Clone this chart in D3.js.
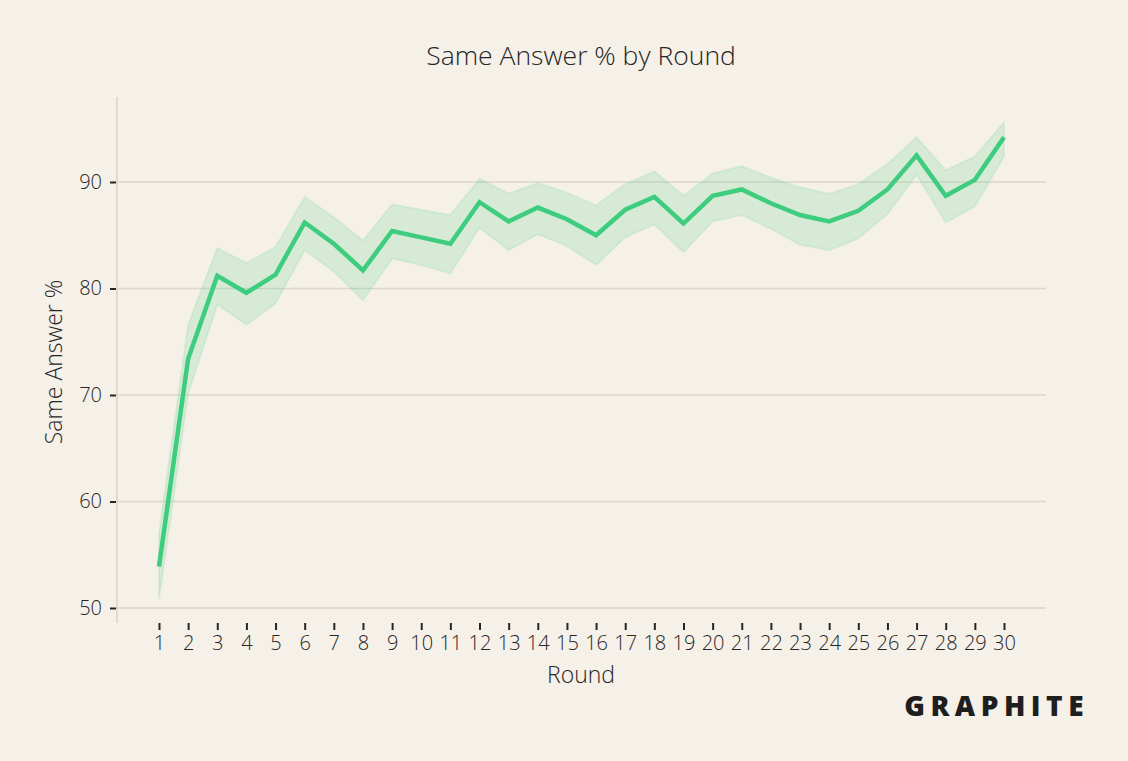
<!DOCTYPE html>
<html>
<head>
<meta charset="utf-8">
<script src="https://cdn.jsdelivr.net/npm/d3@7"></script>
<style>
  html, body { margin: 0; padding: 0; background: #f5f0e8; }
  svg { display: block; font-family: "Open Sans", sans-serif; }
</style>
</head>
<body>
<svg id="chart" width="1128" height="761"></svg>
<script>
const rounds = d3.range(1, 31);
const sameAnswer = [53.9, 73.4, 81.2, 79.6, 81.3, 86.2, 84.2, 81.7, 85.4, 84.8,
  84.2, 88.1, 86.3, 87.6, 86.5, 85.0, 87.4, 88.6, 86.1, 88.7,
  89.3, 88.0, 86.9, 86.3, 87.3, 89.3, 92.5, 88.7, 90.2, 94.2];
const upperCI = [57.0, 76.6, 83.8, 82.4, 83.9, 88.6, 86.7, 84.5, 87.9, 87.4,
  86.9, 90.3, 88.9, 89.9, 89.0, 87.8, 89.8, 91.0, 88.7, 90.8,
  91.5, 90.4, 89.5, 88.9, 89.8, 91.7, 94.2, 91.1, 92.4, 95.6];
const lowerCI = [50.8, 70.1, 78.5, 76.6, 78.6, 83.6, 81.6, 78.9, 82.8, 82.2,
  81.4, 85.7, 83.6, 85.1, 84.0, 82.2, 84.8, 86.0, 83.4, 86.3,
  86.9, 85.6, 84.1, 83.6, 84.7, 87.0, 90.7, 86.2, 87.7, 92.4];
const yTicks = [50, 60, 70, 80, 90];

const data = rounds.map((r, i) => ({
  round: r, value: sameAnswer[i], hi: upperCI[i], lo: lowerCI[i]
}));

const svg = d3.select("#chart");
const textColor = "#262626";
const gridLeft = 117, gridRight = 1046;

const x = d3.scaleLinear().domain([1, 30]).range([159, 1004]);
const y = d3.scaleLinear().domain([50, 90]).range([608, 182]);

// grid
svg.append("g")
  .selectAll("line")
  .data(yTicks)
  .join("line")
  .attr("x1", gridLeft)
  .attr("x2", gridRight)
  .attr("y1", (d) => y(d))
  .attr("y2", (d) => y(d))
  .attr("stroke", "#dcd6ce")
  .attr("stroke-width", 1.3);

// y axis
const yAxis = svg.append("g")
  .attr("transform", `translate(${gridLeft},0)`)
  .call(d3.axisLeft(y).tickValues(yTicks).tickSize(7).tickPadding(8).tickSizeOuter(0));
yAxis.select(".domain").remove();
yAxis.append("line")
  .attr("x1", 0).attr("x2", 0)
  .attr("y1", 97).attr("y2", 623)
  .attr("stroke", "#d9d3cb")
  .attr("stroke-width", 1.5);
yAxis.selectAll(".tick line").attr("stroke", textColor).attr("stroke-width", 2).attr("x1", -1);
yAxis.selectAll(".tick text")
  .attr("fill", textColor)
  .attr("font-size", 20)
  .attr("font-weight", 300)
  .attr("font-family", "'Open Sans', sans-serif");

// x axis
const xAxis = svg.append("g")
  .attr("transform", "translate(0,623)")
  .call(d3.axisBottom(x).tickValues(rounds).tickFormat(d3.format("d")).tickSize(7).tickPadding(6));
xAxis.select(".domain").remove();
xAxis.selectAll(".tick line").attr("stroke", textColor).attr("stroke-width", 2);
xAxis.selectAll(".tick text")
  .attr("fill", textColor)
  .attr("font-size", 20)
  .attr("font-weight", 300)
  .attr("font-family", "'Open Sans', sans-serif");

// confidence band
const area = d3.area()
  .x((d) => x(d.round))
  .y0((d) => y(d.lo))
  .y1((d) => y(d.hi));

svg.append("path")
  .datum(data)
  .attr("fill", "#3ecc7e")
  .attr("fill-opacity", 0.16)
  .attr("stroke", "#3ecc7e")
  .attr("stroke-opacity", 0.12)
  .attr("stroke-width", 2)
  .attr("d", area);

// main line
const line = d3.line()
  .x((d) => x(d.round))
  .y((d) => y(d.value));

svg.append("path")
  .datum(data)
  .attr("fill", "none")
  .attr("stroke", "#3ecc7e")
  .attr("stroke-width", 4.5)
  .attr("stroke-linejoin", "miter")
  .attr("d", line);

// labels
svg.append("text")
  .attr("x", 581).attr("y", 65)
  .attr("text-anchor", "middle")
  .attr("fill", textColor)
  .attr("font-size", 26.5)
  .attr("font-weight", 300)
  .text("Same Answer % by Round");

svg.append("text")
  .attr("x", 581).attr("y", 683)
  .attr("text-anchor", "middle")
  .attr("fill", textColor)
  .attr("font-size", 23)
  .attr("font-weight", 300)
  .text("Round");

svg.append("text")
  .attr("transform", "translate(62,362) rotate(-90)")
  .attr("text-anchor", "middle")
  .attr("fill", textColor)
  .attr("font-size", 23)
  .attr("font-weight", 300)
  .text("Same Answer %");

// logo
svg.append("text")
  .attr("x", 1089).attr("y", 716)
  .attr("text-anchor", "end")
  .attr("fill", "#1e1e1e")
  .attr("font-size", 28)
  .attr("font-weight", 800)
  .attr("letter-spacing", 5.5)
  .attr("font-family", "'Open Sans', sans-serif")
  .text("GRAPHITE");
</script>
</body>
</html>
